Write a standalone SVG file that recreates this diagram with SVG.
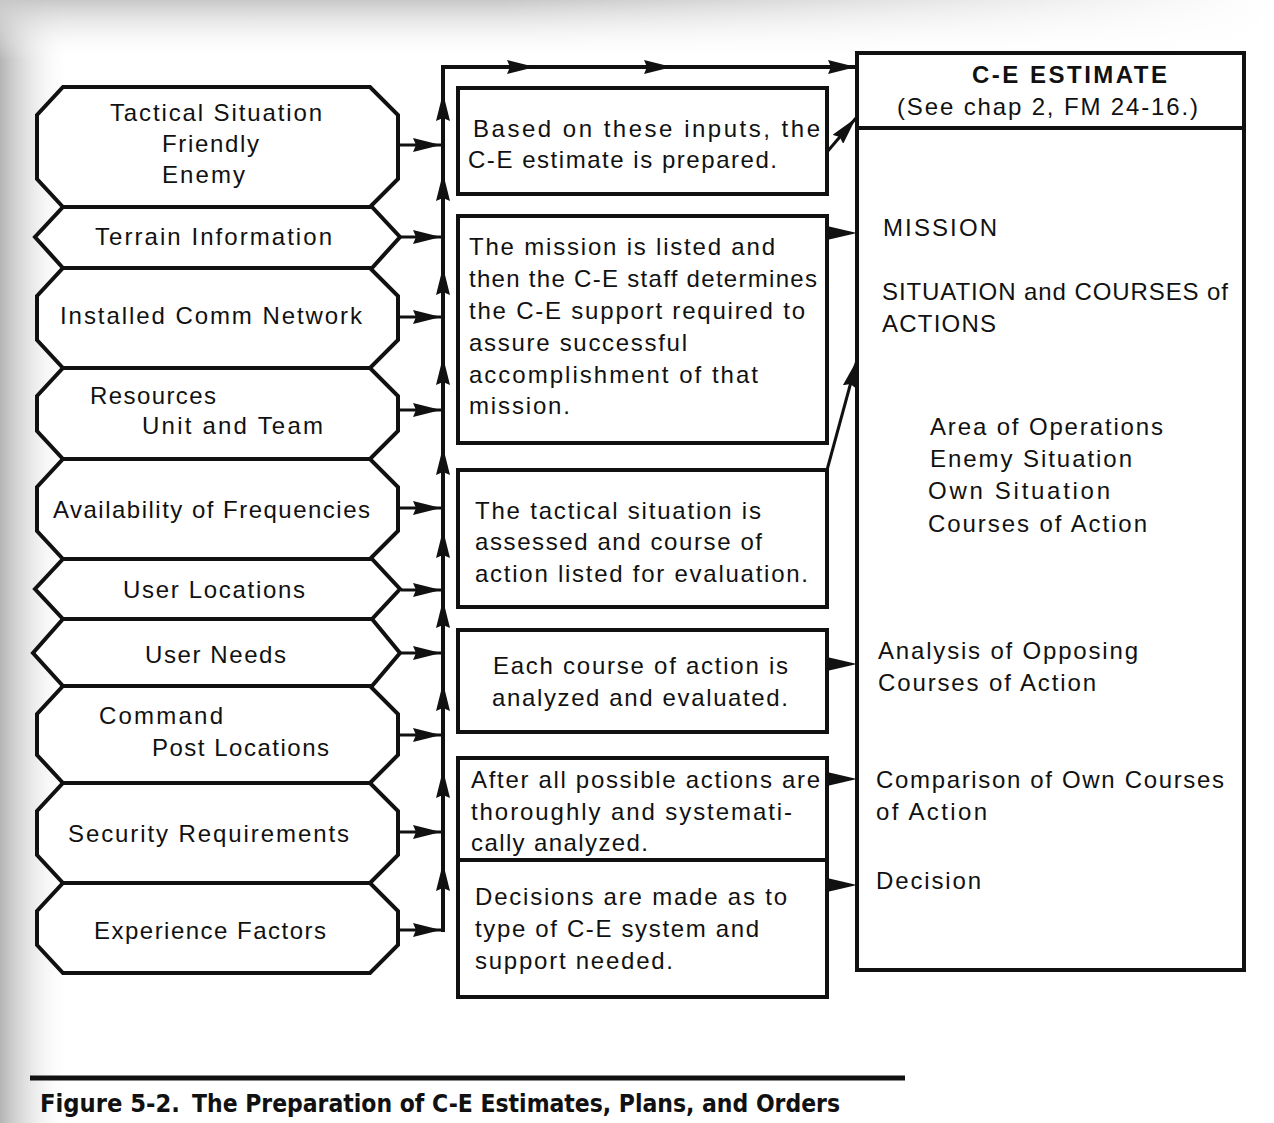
<svg xmlns="http://www.w3.org/2000/svg" width="1274" height="1123" viewBox="0 0 1274 1123">
<style>
.node{fill:#fff;stroke:#111;stroke-width:4;stroke-linejoin:miter}
.t{font-family:"Liberation Sans",Arial,sans-serif;font-size:24px;fill:#111}
.b{font-weight:bold}
.cap{font-family:"Liberation Sans Narrow","DejaVu Sans Condensed","Liberation Sans",sans-serif;font-size:25px;font-weight:bold;fill:#111}
.ln{fill:none;stroke:#111;stroke-width:4}
.ar{fill:none;stroke:#111;stroke-width:3}
.wedge{fill:#111}
</style>
<defs>
<linearGradient id="gl" x1="0" y1="0" x2="1" y2="0">
<stop offset="0" stop-color="#b4b4b4"/><stop offset="1" stop-color="#ffffff" stop-opacity="0"/>
</linearGradient>
<linearGradient id="gt" x1="0" y1="0" x2="0" y2="1">
<stop offset="0" stop-color="#c8c8c8"/><stop offset="1" stop-color="#ffffff" stop-opacity="0"/>
</linearGradient>
<linearGradient id="gth" x1="0" y1="0" x2="1" y2="0">
<stop offset="0" stop-color="#ffffff" stop-opacity="0"/><stop offset="1" stop-color="#ffffff" stop-opacity="1"/>
</linearGradient>
<marker id="ah" viewBox="0 0 28 14" refX="28" refY="7" markerWidth="28" markerHeight="14" markerUnits="userSpaceOnUse" orient="auto">
<path d="M0,0 L28,7 L0,14 L3,7 z" fill="#111"/>
</marker>
</defs>
<rect x="0" y="0" width="1274" height="1123" fill="#fff"/>
<rect x="0" y="0" width="70" height="1123" fill="url(#gl)"/>
<rect x="0" y="0" width="1274" height="60" fill="url(#gt)"/>
<rect x="500" y="0" width="774" height="60" fill="url(#gth)"/>

<g id="connectors">
<path class="ar" d="M399,145 L441,145" marker-end="url(#ah)"/>
<path class="ar" d="M401,237 L441,237" marker-end="url(#ah)"/>
<path class="ar" d="M399,317 L441,317" marker-end="url(#ah)"/>
<path class="ar" d="M399,410 L441,410" marker-end="url(#ah)"/>
<path class="ar" d="M399,508 L441,508" marker-end="url(#ah)"/>
<path class="ar" d="M401,590 L441,590" marker-end="url(#ah)"/>
<path class="ar" d="M401,653 L441,653" marker-end="url(#ah)"/>
<path class="ar" d="M399,735 L441,735" marker-end="url(#ah)"/>
<path class="ar" d="M399,832 L441,832" marker-end="url(#ah)"/>
<path class="ar" d="M399,930 L441,930" marker-end="url(#ah)"/>
<path class="ln" d="M443,932 L443,863 L443,770 L443,683 L443,600 L443,530 L443,447 L443,357 L443,267 L443,173 L443,93 L443,67" marker-mid="url(#ah)"/>
<path class="ln" d="M441,67 L535,67 L672,67 L856,67" marker-mid="url(#ah)" marker-end="url(#ah)"/>
<path class="ar" d="M827,152 L856,118" marker-end="url(#ah)"/>
<path class="ar" d="M827,470 L857,360" marker-end="url(#ah)"/>
<polygon class="wedge" points="827,226 857,233 827,240"/>
<polygon class="wedge" points="827,657 857,664 827,671"/>
<polygon class="wedge" points="827,772 857,779 827,786"/>
<polygon class="wedge" points="827,878 857,885 827,892"/>
</g>

<g id="n1"><polygon class="node" points="63,87 370,87 398,115 398,179 370,207 63,207 37,179 37,115"/>
<text class="t" x="110" y="121" textLength="212" lengthAdjust="spacing">Tactical Situation</text>
<text class="t" x="162" y="152" textLength="97" lengthAdjust="spacing">Friendly</text>
<text class="t" x="162" y="183" textLength="83" lengthAdjust="spacing">Enemy</text></g>
<g id="n2"><polygon class="node" points="63,207 372,207 400,237 372,268 63,268 35,237"/>
<text class="t" x="95" y="245" textLength="237" lengthAdjust="spacing">Terrain Information</text></g>
<g id="n3"><polygon class="node" points="63,268 370,268 398,296 398,340 370,368 63,368 37,340 37,296"/>
<text class="t" x="60" y="324" textLength="302" lengthAdjust="spacing">Installed Comm Network</text></g>
<g id="n4"><polygon class="node" points="63,368 370,368 398,396 398,431 370,459 63,459 37,431 37,396"/>
<text class="t" x="90" y="404" textLength="126" lengthAdjust="spacing">Resources</text>
<text class="t" x="142" y="434" textLength="181" lengthAdjust="spacing">Unit and Team</text></g>
<g id="n5"><polygon class="node" points="63,459 370,459 398,487 398,531 370,559 63,559 37,531 37,487"/>
<text class="t" x="53" y="518" textLength="317" lengthAdjust="spacing">Availability of Frequencies</text></g>
<g id="n6"><polygon class="node" points="63,559 372,559 400,589 372,619 63,619 35,589"/>
<text class="t" x="123" y="598" textLength="182" lengthAdjust="spacing">User Locations</text></g>
<g id="n7"><polygon class="node" points="63,619 372,619 400,653 372,686 63,686 33,653"/>
<text class="t" x="145" y="663" textLength="141" lengthAdjust="spacing">User Needs</text></g>
<g id="n8"><polygon class="node" points="63,686 370,686 398,714 398,755 370,783 63,783 37,755 37,714"/>
<text class="t" x="99" y="724" textLength="124" lengthAdjust="spacing">Command</text>
<text class="t" x="152" y="756" textLength="177" lengthAdjust="spacing">Post Locations</text></g>
<g id="n9"><polygon class="node" points="63,783 370,783 398,811 398,855 370,883 63,883 37,855 37,811"/>
<text class="t" x="68" y="842" textLength="281" lengthAdjust="spacing">Security Requirements</text></g>
<g id="n10"><polygon class="node" points="63,883 370,883 398,911 398,945 370,973 63,973 37,945 37,911"/>
<text class="t" x="94" y="939" textLength="232" lengthAdjust="spacing">Experience Factors</text></g>

<g id="m1"><rect class="node" x="458" y="88" width="369" height="106"/>
<text class="t" x="473" y="137" textLength="347" lengthAdjust="spacing">Based on these inputs, the</text>
<text class="t" x="468" y="168" textLength="309" lengthAdjust="spacing">C-E estimate is prepared.</text></g>
<g id="m2"><rect class="node" x="458" y="216" width="369" height="227"/>
<text class="t" x="469" y="255" textLength="306" lengthAdjust="spacing">The mission is listed and</text>
<text class="t" x="469" y="287" textLength="348" lengthAdjust="spacing">then the C-E staff determines</text>
<text class="t" x="469" y="319" textLength="336" lengthAdjust="spacing">the C-E support required to</text>
<text class="t" x="469" y="351" textLength="218" lengthAdjust="spacing">assure successful</text>
<text class="t" x="469" y="383" textLength="289" lengthAdjust="spacing">accomplishment of that</text>
<text class="t" x="469" y="414" textLength="101" lengthAdjust="spacing">mission.</text></g>
<g id="m3"><rect class="node" x="458" y="470" width="369" height="137"/>
<text class="t" x="475" y="519" textLength="286" lengthAdjust="spacing">The tactical situation is</text>
<text class="t" x="475" y="550" textLength="287" lengthAdjust="spacing">assessed and course of</text>
<text class="t" x="475" y="582" textLength="333" lengthAdjust="spacing">action listed for evaluation.</text></g>
<g id="m4"><rect class="node" x="458" y="630" width="369" height="102"/>
<text class="t" x="493" y="674" textLength="295" lengthAdjust="spacing">Each course of action is</text>
<text class="t" x="492" y="706" textLength="296" lengthAdjust="spacing">analyzed and evaluated.</text></g>
<g id="m5"><rect class="node" x="458" y="758" width="369" height="102"/>
<text class="t" x="471" y="788" textLength="349" lengthAdjust="spacing">After all possible actions are</text>
<text class="t" x="471" y="820" textLength="321" lengthAdjust="spacing">thoroughly and systemati-</text>
<text class="t" x="471" y="851" textLength="177" lengthAdjust="spacing">cally analyzed.</text></g>
<g id="m6"><rect class="node" x="458" y="860" width="369" height="137"/>
<text class="t" x="475" y="905" textLength="312" lengthAdjust="spacing">Decisions are made as to</text>
<text class="t" x="475" y="937" textLength="284" lengthAdjust="spacing">type of C-E system and</text>
<text class="t" x="475" y="969" textLength="198" lengthAdjust="spacing">support needed.</text></g>

<g id="estimate"><rect class="node" x="857" y="53" width="387" height="917"/>
<line class="ln" x1="857" y1="128" x2="1244" y2="128"/>
<text class="t b" x="972" y="83" textLength="195" lengthAdjust="spacing">C-E ESTIMATE</text>
<text class="t" x="897" y="115" textLength="301" lengthAdjust="spacing">(See chap 2, FM 24-16.)</text>
<text class="t" x="883" y="236" textLength="114" lengthAdjust="spacing">MISSION</text>
<text class="t" x="882" y="300" textLength="346" lengthAdjust="spacing">SITUATION and COURSES of</text>
<text class="t" x="882" y="332" textLength="114" lengthAdjust="spacing">ACTIONS</text>
<text class="t" x="930" y="435" textLength="233" lengthAdjust="spacing">Area of Operations</text>
<text class="t" x="930" y="467" textLength="202" lengthAdjust="spacing">Enemy Situation</text>
<text class="t" x="928" y="499" textLength="182" lengthAdjust="spacing">Own  Situation</text>
<text class="t" x="928" y="532" textLength="219" lengthAdjust="spacing">Courses of Action</text>
<text class="t" x="878" y="659" textLength="260" lengthAdjust="spacing">Analysis of Opposing</text>
<text class="t" x="878" y="691" textLength="218" lengthAdjust="spacing">Courses of Action</text>
<text class="t" x="876" y="788" textLength="348" lengthAdjust="spacing">Comparison of Own Courses</text>
<text class="t" x="876" y="820" textLength="111" lengthAdjust="spacing">of Action</text>
<text class="t" x="876" y="889" textLength="105" lengthAdjust="spacing">Decision</text></g>

<g id="caption">
<line x1="30" y1="1078" x2="905" y2="1078" stroke="#111" stroke-width="5"/>
<text class="cap" x="40" y="1112" textLength="140" lengthAdjust="spacingAndGlyphs">Figure 5-2.</text>
<text class="cap" x="192" y="1112" textLength="648" lengthAdjust="spacingAndGlyphs">The Preparation of C-E Estimates, Plans, and Orders</text>
</g>
</svg>
